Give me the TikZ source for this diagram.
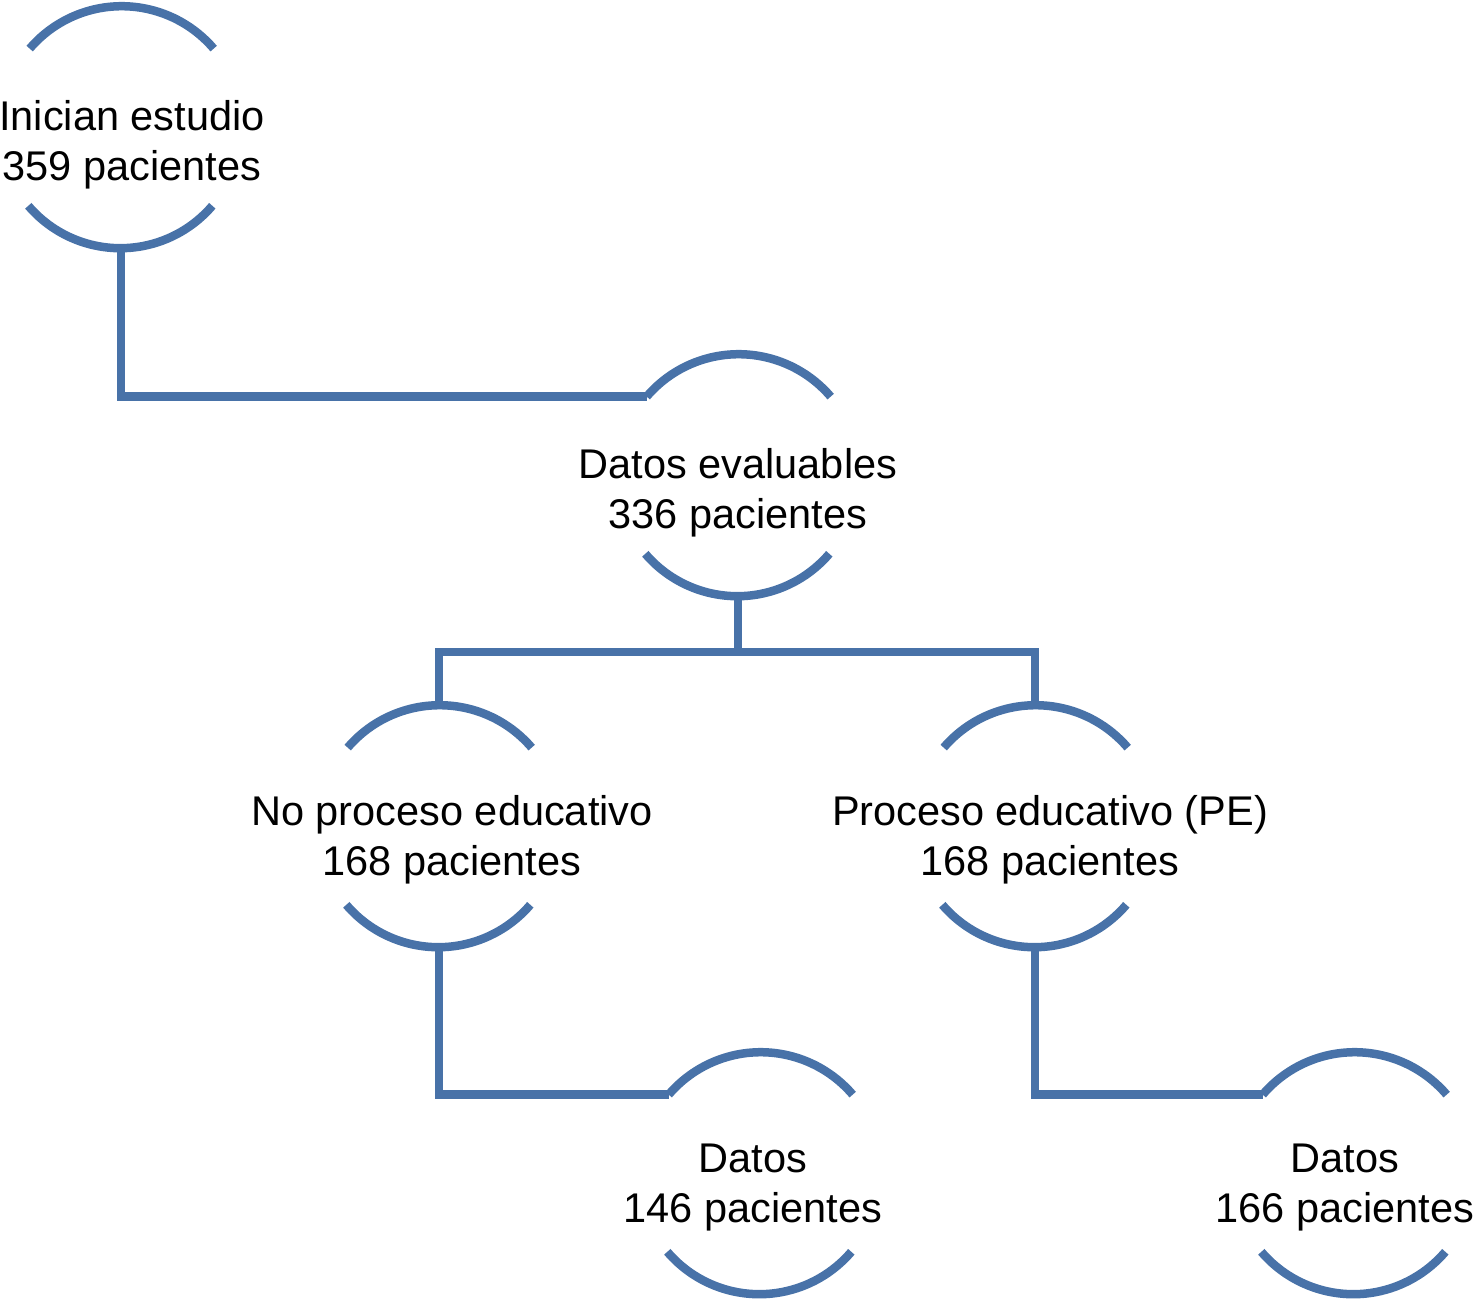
\documentclass[tikz,border=0pt]{standalone}
\usepackage{fontspec}
\setmainfont{Liberation Sans}
\definecolor{flowblue}{RGB}{72,114,168}
\begin{document}
\begin{tikzpicture}[x=1pt,y=1pt,
  frame/.style={circle,minimum size=242pt,inner sep=0pt,outer sep=0pt},
  arcline/.style={draw=flowblue,line width=8.5pt,line cap=butt},
  conn/.style={draw=flowblue,line width=8.5pt,line cap=butt,line join=miter},
  label/.style={align=center,inner sep=0pt,font=\fontsize{41.5}{50}\selectfont,text=black}]
\useasboundingbox (0,0) rectangle (1474,-1301);
% invisible frames
\node[frame] (n1) at (121,-128) {};
\node[frame] (n2) at (738,-476) {};
\node[frame] (n3) at (439,-827) {};
\node[frame] (n4) at (1035,-827) {};
\node[frame] (n5) at (760,-1174) {};
\node[frame] (n6) at (1354,-1174) {};
% arcs
\foreach \n in {n1,n2,n3,n4,n5,n6}{
  \draw[arcline] (\n.139.5) arc[start angle=139.5,end angle=40.5,radius=121];
  \draw[arcline] (\n.220.5) arc[start angle=220.5,end angle=319.5,radius=121];
}
% texts
\node[label] (t1) at (132,-145) {Inician estudio\\359 pacientes};
\node[label] (t2) at (738,-493) {Datos evaluables\\336 pacientes};
\node[label] (t3) at (452,-840) {No proceso educativo\\168 pacientes};
\node[label] (t4) at (1050,-840) {Proceso educativo (PE)\\168 pacientes};
\node[label] (t5) at (753,-1188) {Datos\\146 pacientes};
\node[label] (t6) at (1345,-1188) {Datos\\166 pacientes};
% connectors
\draw[conn] (n1.south) |- (n2.139.5);
\draw[conn] (n2.south) -- ++(0,-55) coordinate (j);
\draw[conn] (n3.north) |- (j) -| (n4.north);
\draw[conn] (n3.south) |- (n5.139.5);
\draw[conn] (n4.south) |- (n6.139.5);
\end{tikzpicture}
\end{document}
